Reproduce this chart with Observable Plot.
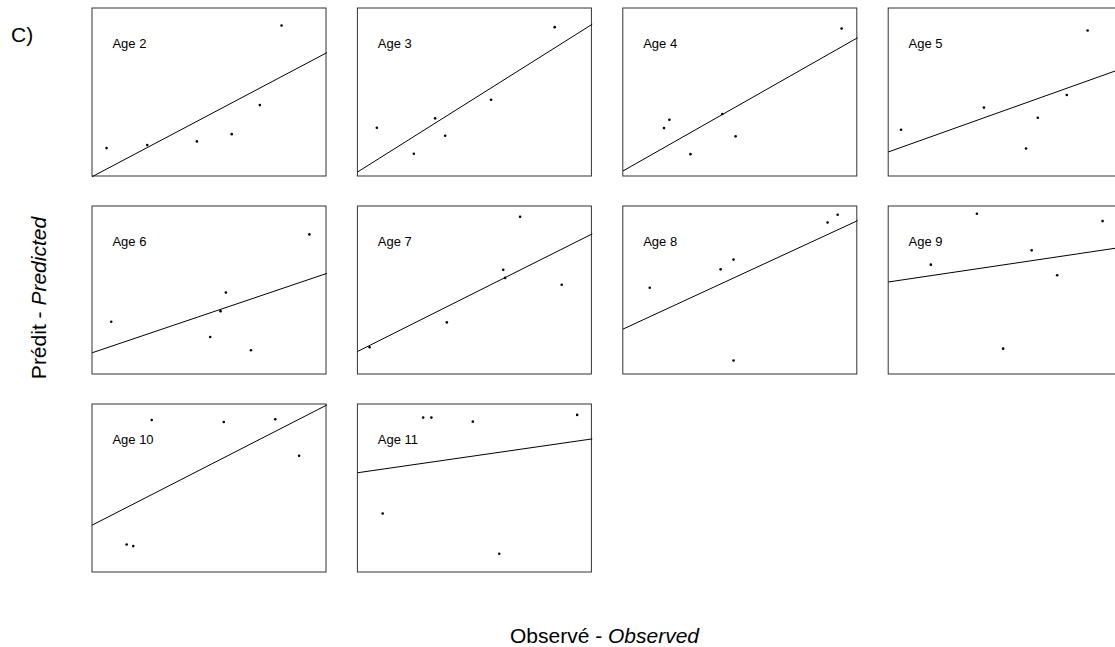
<!DOCTYPE html>
<html><head><meta charset="utf-8">
<script src="https://cdn.jsdelivr.net/npm/d3@7"></script>
<script src="https://cdn.jsdelivr.net/npm/@observablehq/plot@0.6"></script>
<style>
html,body{margin:0;padding:0;background:#fff;overflow:hidden}
#wrap{position:relative;width:1115px;height:647px;overflow:hidden;font-family:"Liberation Sans",Arial,Helvetica,sans-serif;color:#000}
#chart{position:absolute;left:0;top:0;width:1123px}
.lab{position:absolute;font-size:21px;line-height:21px;white-space:nowrap}
</style></head><body>
<div id="wrap">
<div id="chart"></div>
<div class="lab" style="left:11px;top:24px">C)</div>
<div class="lab" style="left:37.5px;top:298px;transform:translate(-50%,-50%) rotate(-90deg)">Prédit - <i>Predicted</i></div>
<div class="lab" style="left:604.5px;top:625px;transform:translateX(-50%)">Observé - <i>Observed</i></div>
</div>
<script>
const ages = [2, 3, 4, 5, 6, 7, 8, 9, 10, 11];
const observed = [
  [6.0, 23.4, 44.6, 59.5, 71.5, 80.8],
  [8.1, 23.9, 33.0, 37.3, 56.9, 84.1],
  [17.4, 19.7, 28.7, 42.3, 48.0, 93.3],
  [5.3, 40.7, 58.7, 63.7, 76.1, 85.0],
  [8.0, 50.3, 54.7, 57.0, 67.7, 92.7],
  [5.0, 38.0, 62.1, 62.9, 69.3, 87.1],
  [11.3, 41.6, 47.1, 47.1, 87.3, 91.6],
  [18.0, 37.7, 48.9, 61.1, 72.0, 91.4],
  [14.6, 17.4, 25.3, 56.1, 78.1, 88.3],
  [10.6, 27.9, 31.4, 49.1, 60.4, 93.7]
];
const predicted = [
  [16.9, 18.7, 20.9, 25.2, 42.5, 89.9],
  [29.0, 13.5, 34.6, 24.3, 45.7, 88.9],
  [28.8, 33.8, 13.3, 37.2, 23.9, 88.1],
  [27.8, 41.0, 16.7, 35.0, 48.5, 86.9],
  [31.4, 22.3, 37.7, 48.8, 14.4, 83.4],
  [16.2, 31.0, 62.3, 57.5, 93.9, 53.4],
  [51.6, 62.6, 68.4, 8.3, 90.5, 95.1],
  [65.4, 95.7, 15.4, 73.9, 59.1, 91.3],
  [16.7, 15.7, 90.8, 89.6, 91.2, 69.5],
  [35.1, 92.2, 92.2, 89.8, 11.2, 93.8]
];
const fitStart = [0.0, 2.8, 3.4, 14.7, 13.0, 13.8, 27.1, 55.1, 28.3, 59.4];
const fitEnd = [73.6, 90.5, 82.5, 64.4, 60.1, 83.6, 91.5, 75.8, 99.6, 79.5];
const axisDomain = [0, 100];

const nCols = 4;
const cell = (i) => ({col: i % nCols, row: Math.floor(i / nCols)});

const points = ages.flatMap((age, i) => observed[i].map((o, j) => ({age, ...cell(i), obs: o, pred: predicted[i][j]})));
const fits = ages.flatMap((age, i) => [
  {age, ...cell(i), obs: axisDomain[0], pred: fitStart[i]},
  {age, ...cell(i), obs: axisDomain[1], pred: fitEnd[i]}
]);
const panels = ages.map((age, i) => ({age, ...cell(i), label: `Age ${age}`}));

const chart = Plot.plot({
  width: 1123,
  height: 600,
  marginLeft: 92,
  marginRight: 0.8,
  marginTop: 8,
  marginBottom: 28,
  facet: {marginTop: 0, marginRight: 0, marginBottom: 0, marginLeft: 0},
  x: {domain: axisDomain, axis: null},
  y: {domain: axisDomain, axis: null},
  fx: {domain: [0, 1, 2, 3], axis: null, paddingInner: 0.1183, paddingOuter: 0, round: false},
  fy: {domain: [0, 1, 2], axis: null, paddingInner: 0.1515, paddingOuter: 0, round: false},
  style: {fontFamily: "'Liberation Sans', Arial, sans-serif", background: "transparent", maxWidth: "none"},
  marks: [
    Plot.rect(panels, {x1: axisDomain[0], x2: axisDomain[1], y1: axisDomain[0], y2: axisDomain[1], fx: "col", fy: "row", fill: "none", stroke: "#333", strokeWidth: 1}),
    Plot.line(fits, {x: "obs", y: "pred", z: "age", fx: "col", fy: "row", stroke: "#000", strokeWidth: 1}),
    Plot.dot(points, {x: "obs", y: "pred", fx: "col", fy: "row", r: 1.3, fill: "#000", stroke: "none"}),
    Plot.text(panels, {x: 8.5, y: 79, text: "label", fx: "col", fy: "row", textAnchor: "start", fontSize: 13, fill: "#000"})
  ]
});
document.getElementById("chart").appendChild(chart);
</script>
</body></html>
